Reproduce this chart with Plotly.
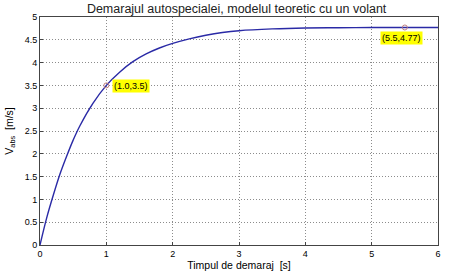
import plotly.graph_objects as go

t = [0, 0.1, 0.2, 0.3, 0.4, 0.5, 0.6, 0.8, 1.0, 1.2, 1.4, 1.6, 1.8, 2.0, 2.25, 2.5, 2.75, 3.0, 3.5, 4.0, 4.5, 5.0, 5.5, 6.0]
v = [0, 0.59, 1.09, 1.55, 1.94, 2.30, 2.61, 3.11, 3.50, 3.79, 4.02, 4.19, 4.32, 4.42, 4.52, 4.60, 4.66, 4.70, 4.74, 4.76, 4.765, 4.77, 4.77, 4.77]
mark_t = [1.0, 5.5]
mark_v = [3.5, 4.77]
mark_labels = ["(1.0,3.5)", "(5.5,4.77)"]
xticks = [0, 1, 2, 3, 4, 5, 6]
yticks = [0, 0.5, 1, 1.5, 2, 2.5, 3, 3.5, 4, 4.5, 5]

font = "Liberation Sans, Arial, sans-serif"

fig = go.Figure()
fig.add_trace(go.Scatter(x=t, y=v, mode="lines", line=dict(color="#2a2aa6", width=1.4, shape="spline"),
                         showlegend=False))
fig.add_trace(go.Scatter(x=mark_t, y=mark_v, mode="markers",
                         marker=dict(symbol="circle-open", size=5, color="#c08080", line=dict(width=1)),
                         showlegend=False))

for xx, yy, lab in zip(mark_t, mark_v, mark_labels):
    fig.add_annotation(x=xx, y=yy, text=lab, showarrow=False, xanchor="left", yanchor="top",
                       xshift=6 if xx < 2 else -25, yshift=6 if xx < 2 else -4,
                       bgcolor="#ffff00", font=dict(family=font, size=9, color="black"), borderpad=1)

axis_common = dict(showgrid=True, gridcolor="#8c8c8c", griddash="1px,2px", gridwidth=1,
                   showline=True, linecolor="#444444", linewidth=1, mirror=True,
                   ticks="inside", ticklen=3, tickcolor="#444444",
                   tickfont=dict(family=font, size=9, color="black"), zeroline=False)

fig.update_xaxes(range=[0, 6], tickvals=xticks, **axis_common,
                 title=dict(text="Timpul de demaraj  [s]", font=dict(family=font, size=10.5, color="black"), standoff=2))
fig.update_yaxes(range=[0, 5], tickvals=yticks, **axis_common,
                 title=dict(text="V<sub>abs</sub>  [m/s]", font=dict(family=font, size=10.5, color="black"), standoff=9))

fig.update_layout(width=449, height=276, margin=dict(l=39, r=8, t=17, b=22),
                  plot_bgcolor="white", paper_bgcolor="white",
                  title=dict(text="Demarajul autospecialei, modelul teoretic cu un volant",
                             x=0.527, xanchor="center", y=0.97, yanchor="middle",
                             font=dict(family=font, size=12.5, color="#222222")))

fig.write_html("out.html")
